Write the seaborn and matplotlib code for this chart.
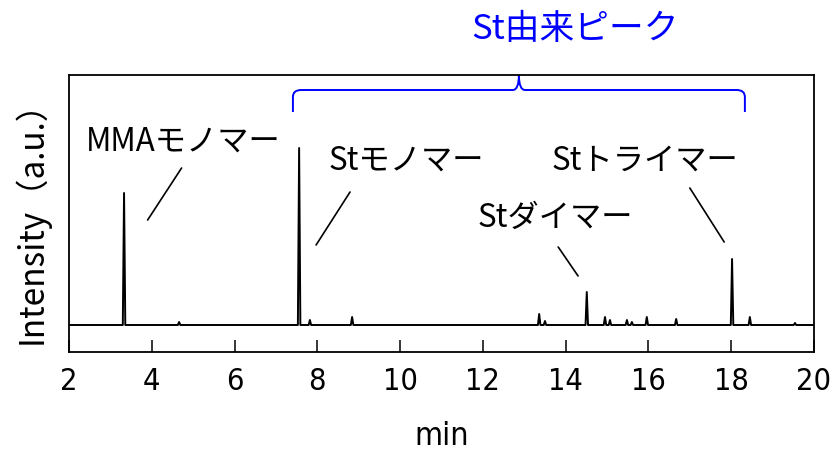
import pandas as pd
import matplotlib.pyplot as plt
import seaborn as sns
from matplotlib.path import Path
from matplotlib.patches import PathPatch

# ピーク情報 (保持時間 [min], 強度 [a.u.])
peak_times = [3.33, 4.66, 7.56, 7.82, 8.84, 13.36, 13.50, 14.51, 14.95, 15.07,
              15.48, 15.60, 15.96, 16.67, 18.02, 18.45, 19.54]
peak_heights = [132, 3, 177, 5, 8, 11, 4, 33, 8, 5, 5, 3, 8, 6, 66, 8, 2]
peak_halfwidth = 0.03

# ラベル
labels = ["MMAモノマー", "Stモノマー", "Stダイマー", "Stトライマー"]
label_xy = [(4.75, 183), (10.16, 164), (13.74, 107), (15.91, 164)]
leader_lines = [((4.72, 157), (3.90, 105)), ((8.79, 133), (7.97, 80)),
                ((13.82, 78), (14.30, 49)), ((17.00, 137), (17.83, 83))]
x_ticks = [2, 4, 6, 8, 10, 12, 14, 16, 18, 20]

# クロマトグラムの折れ線データ
t, y = [2.0], [0.0]
for pt, ph in zip(peak_times, peak_heights):
    t += [pt - peak_halfwidth, pt, pt + peak_halfwidth]
    y += [0.0, ph, 0.0]
t.append(20.0)
y.append(0.0)
df = pd.DataFrame({"time": t, "intensity": y})

sns.set_style("white")
plt.rcParams["font.family"] = ["Noto Sans CJK JP", "DejaVu Sans"]
plt.rcParams["text.color"] = "black"
plt.rcParams["axes.labelcolor"] = "black"

narrow = ["Liberation Sans Narrow", "DejaVu Sans"]

fig = plt.figure(figsize=(8.35, 4.57), dpi=100)
ax = fig.add_axes([69 / 835, 1 - 352 / 457, (814 - 69) / 835, (352 - 75) / 457])
sns.lineplot(data=df, x="time", y="intensity", color="black", linewidth=1.4,
             estimator=None, sort=False, ax=ax)

ax.set_xlim(2, 20)
ax.set_ylim(-27, 250)
ax.set_xticks(x_ticks)
ax.set_xticklabels([str(v) for v in x_ticks], family=narrow,
                   stretch="condensed", fontsize=22)
ax.set_yticks([])
ax.tick_params(axis="x", direction="in", length=9, width=1.1, pad=11,
               bottom=True, top=False, colors="black")
for s in ax.spines.values():
    s.set_visible(True)
    s.set_color("black")
    s.set_linewidth(1.3)

ax.set_xlabel("min", family=narrow, stretch="condensed", fontsize=23, labelpad=18)
ax.set_ylabel("Intensity（a.u.）", fontsize=24, labelpad=14)

for txt, (lx, ly), ((x0, y0), (x1, y1)) in zip(labels, label_xy, leader_lines):
    ax.text(lx, ly, txt, ha="center", va="center", fontsize=22.5, color="black")
    ax.plot([x0, x1], [y0, y1], color="black", linewidth=1.2)

# St由来ピークの括弧
xl, xm, xr = 7.41, 12.87, 18.33
yb, yh, yt = 213, 235, 250
verts = [(xl, yb), (xl, yh - 7), (xl, yh), (xl + 0.2, yh),
         (xm - 0.15, yh), (xm, yh), (xm, yt),
         (xm, yh), (xm + 0.15, yh),
         (xr - 0.2, yh), (xr, yh), (xr, yh - 7), (xr, yb)]
codes = [Path.MOVETO, Path.LINETO, Path.CURVE3, Path.CURVE3,
         Path.LINETO, Path.CURVE3, Path.CURVE3,
         Path.CURVE3, Path.CURVE3,
         Path.LINETO, Path.CURVE3, Path.CURVE3, Path.LINETO]
ax.add_patch(PathPatch(Path(verts, codes), fill=False, edgecolor="blue",
                       linewidth=1.4, clip_on=False))
ax.text(14.22, 1.166, "St由来ピーク", transform=ax.get_xaxis_transform(),
        ha="center", va="center", fontsize=25, color="blue")

fig.savefig("out.png", dpi=100)
